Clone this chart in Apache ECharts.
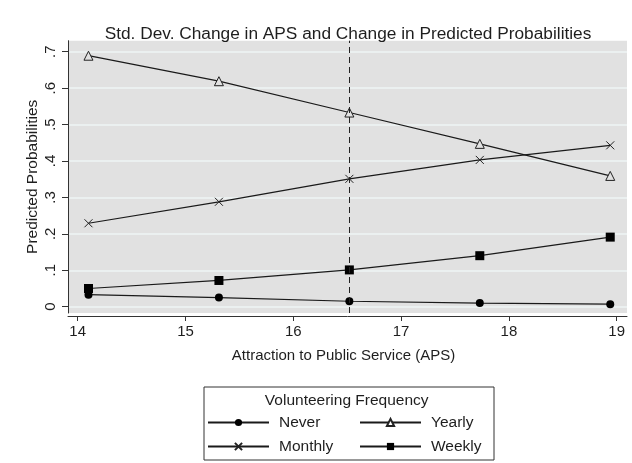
<!DOCTYPE html>
<html>
<head>
<meta charset="utf-8">
<script src="https://cdn.jsdelivr.net/npm/echarts@6/dist/echarts.min.js"></script>
<style>html,body{margin:0;padding:0;background:#fff}#c{width:632px;height:463px}</style>
</head>
<body>
<div id="c"></div>
<script>
const apsValues = [14.10, 15.31, 16.52, 17.73, 18.94];
const neverProb = [0.033, 0.025, 0.015, 0.010, 0.007];
const yearlyProb = [0.689, 0.619, 0.533, 0.447, 0.359];
const monthlyProb = [0.229, 0.288, 0.351, 0.403, 0.443];
const weeklyProb = [0.050, 0.072, 0.101, 0.140, 0.191];
const meanAPS = 16.52;
const xTicks = [14, 15, 16, 17, 18, 19];
const yTicks = [0, 0.1, 0.2, 0.3, 0.4, 0.5, 0.6, 0.7];
const yTickLabels = ['0', '.1', '.2', '.3', '.4', '.5', '.6', '.7'];

const FONT = '"Liberation Sans", Arial, Helvetica, sans-serif';
const TXT = '#1e1e1e';

function pts(ys) { return apsValues.map((x, i) => [x, ys[i]]); }

const chart = echarts.init(document.getElementById('c'), null, {renderer: 'canvas'});
const lineStyle = {color: '#1a1a1a', width: 1.2};
const X_PATH = 'path://M0,0L10,10M10,0L0,10';

function legendOpt(names, left) {
  return {
    data: names, left: left, top: 413.5, padding: 0,
    orient: 'vertical', height: 50,
    itemWidth: 61, itemHeight: 9, itemGap: 6,
    textStyle: {fontFamily: FONT, fontSize: 15.5, lineHeight: 18, color: TXT, padding: [0, 0, 0, 5]}
  };
}

chart.setOption({
  animation: false,
  backgroundColor: '#ffffff',
  textStyle: {fontFamily: FONT},
  title: {
    text: 'Std. Dev. Change in APS and Change in Predicted Probabilities',
    left: 343, top: 21, textAlign: 'center',
    textStyle: {fontFamily: FONT, fontSize: 17.3, fontWeight: 'normal', color: TXT}
  },
  grid: {
    left: 68, right: 5, top: 40.7, bottom: 150,
    show: true, backgroundColor: '#e1e1e1', borderWidth: 0
  },
  xAxis: {
    type: 'value', min: 13.91, max: 19.0955, offset: 3,
    name: 'Attraction to Public Service (APS)', nameLocation: 'middle', nameGap: 32,
    nameTextStyle: {fontFamily: FONT, fontSize: 15, color: TXT, padding: [0, 8, 0, 0]},
    axisLine: {show: true, onZero: false, lineStyle: {color: '#333', width: 1}},
    axisTick: {show: true, length: 5, customValues: xTicks, lineStyle: {color: '#333'}},
    axisLabel: {customValues: xTicks, fontSize: 15, color: TXT, margin: 8, fontFamily: FONT},
    splitLine: {show: false}
  },
  yAxis: {
    type: 'value', min: -0.0173, max: 0.7302,
    name: 'Predicted Probabilities', nameLocation: 'middle', nameGap: 27, nameMoveOverlap: false,
    nameTextStyle: {fontFamily: FONT, fontSize: 15.5, color: TXT},
    axisLine: {show: true, lineStyle: {color: '#333', width: 1}},
    axisTick: {show: true, length: 6, customValues: yTicks, lineStyle: {color: '#333'}},
    axisLabel: {
      customValues: yTicks, rotate: 90, fontSize: 15, color: TXT, margin: 10, fontFamily: FONT,
      formatter: v => yTickLabels[yTicks.findIndex(t => Math.abs(t - v) < 1e-9)] ?? ''
    },
    splitLine: {show: true, customValues: yTicks, lineStyle: {color: '#eef4f4', width: 1.5}}
  },
  legend: [
    legendOpt(['Never', 'Monthly'], 207),
    legendOpt([{name: 'Yearly', itemStyle: {color: '#ffffff'}}, 'Weekly'], 359)
  ],
  graphic: [
    {type: 'rect', left: 201.5, top: 384.5, shape: {width: 290, height: 73},
     style: {fill: 'none', stroke: '#333', lineWidth: 1}, silent: true},
    {type: 'text', x: 346.7, y: 400.5,
     style: {text: 'Volunteering Frequency', fontFamily: FONT, fontSize: 15.5, fill: TXT,
             textAlign: 'center', textVerticalAlign: 'middle'}, silent: true}
  ],
  series: [
    {
      name: 'Never', type: 'line', data: pts(neverProb),
      symbol: 'circle', symbolSize: 8, showAllSymbol: true,
      lineStyle: lineStyle, itemStyle: {color: '#000'}, emphasis: {disabled: true}
    },
    {
      name: 'Yearly', type: 'line', data: pts(yearlyProb),
      symbol: 'triangle', symbolSize: 9,
      lineStyle: lineStyle, itemStyle: {color: '#e1e1e1', borderColor: '#222', borderWidth: 1},
      emphasis: {disabled: true},
      markLine: {
        silent: true, symbol: 'none', label: {show: false},
        lineStyle: {color: '#222', type: [6, 4], width: 1},
        data: [{xAxis: meanAPS}]
      }
    },
    {
      name: 'Monthly', type: 'line', data: pts(monthlyProb),
      symbol: X_PATH, symbolSize: 8,
      lineStyle: lineStyle, itemStyle: {color: 'transparent', borderColor: '#222', borderWidth: 1},
      emphasis: {disabled: true}
    },
    {
      name: 'Weekly', type: 'line', data: pts(weeklyProb),
      symbol: 'rect', symbolSize: 9,
      lineStyle: lineStyle, itemStyle: {color: '#000'}, emphasis: {disabled: true}
    }
  ]
});
</script>
</body>
</html>
